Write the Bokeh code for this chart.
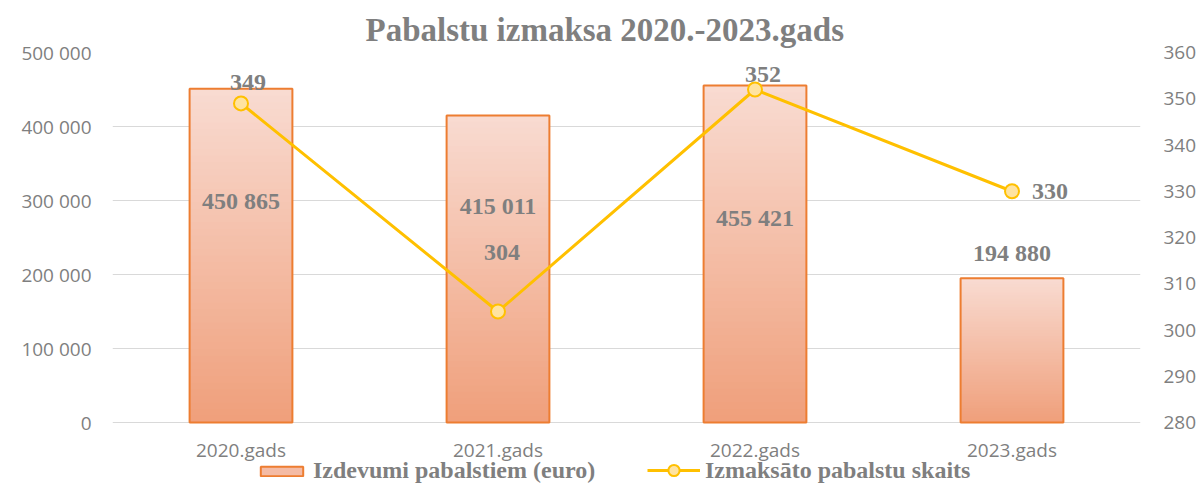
from bokeh.plotting import figure
from bokeh.models import (ColumnDataSource, Range1d, LinearAxis, FixedTicker,
                          CustomJSTickFormatter, Legend, LegendItem)
from bokeh.embed import file_html
from bokeh.resources import INLINE

# ---- data ----
categories = ["2020.gads", "2021.gads", "2022.gads", "2023.gads"]
expenses = [450865, 415011, 455421, 194880]
counts = [349, 304, 352, 330]
left_ticks = [0, 100000, 200000, 300000, 400000, 500000]
right_ticks = [280, 290, 300, 310, 320, 330, 340, 350, 360]
title_text = "Pabalstu izmaksa 2020.-2023.gads"
series_names = ["Izdevumi pabalstiem (euro)", "Izmaksāto pabalstu skaits"]

# ---- styles / layout ----
GREY = "#7F7F7F"
SERIF = "Liberation Serif"
SANS = "Open Sans"
BAR_W = 0.4
top_rgb = (249, 219, 209)
bot_rgb = (240, 160, 124)
bar_label_dx = [0, 0, 0, 0]
bar_label_dy = [112, 91, 133, -25]
cnt_label_dx = [7, 4, 8, 38]
cnt_label_dy = [-21, -59, -15, 0]
W, H = 1201, 485
TOP_PX = 52          # pixel row of the 500 000 gridline
PLOT_PX = 370        # pixels between 0 and 500 000
L_MIN, L_MAX = 0, 500000
R_MIN, R_MAX = 280, 360
extra_px = H - TOP_PX - PLOT_PX  # room below the zero line for labels + legend
l_lo = L_MIN - (L_MAX - L_MIN) * extra_px / PLOT_PX
r_lo = R_MIN - (R_MAX - R_MIN) * extra_px / PLOT_PX

p = figure(width=W, height=H, x_range=categories, y_range=Range1d(l_lo, L_MAX),
           output_backend="svg", toolbar_location=None,
           min_border_left=112, min_border_right=61, min_border_top=TOP_PX, min_border_bottom=0)
p.extra_y_ranges = {"cnt": Range1d(r_lo, R_MAX)}
p.outline_line_color = None
p.background_fill_color = "white"
p.xaxis.visible = False

p.title.text = title_text
p.title.align = "left"
p.title.offset = 253
p.title.text_font = SERIF
p.title.text_font_size = "33px"
p.title.text_font_style = "bold"
p.title.text_color = GREY

# gradient bars built from stacked, slightly overlapping slices
N = 50
xs, bots, tops, cols = [], [], [], []
for c, v in zip(categories, expenses):
    for i in range(N):
        f = i / (N - 1)  # 0 bottom -> 1 top
        r = int(bot_rgb[0] + (top_rgb[0] - bot_rgb[0]) * f)
        g = int(bot_rgb[1] + (top_rgb[1] - bot_rgb[1]) * f)
        b = int(bot_rgb[2] + (top_rgb[2] - bot_rgb[2]) * f)
        xs.append(c)
        bots.append(v * i / N)
        tops.append(min(v, v * (i + 1.8) / N))
        cols.append("#%02x%02x%02x" % (r, g, b))
p.vbar(x=xs, bottom=bots, top=tops, width=BAR_W, fill_color=cols, line_alpha=0)

bar_src = ColumnDataSource(dict(x=categories, top=expenses,
                                label=[f"{v:,}".replace(",", " ") for v in expenses],
                                dx=bar_label_dx, dy=bar_label_dy))
outline = p.vbar(x="x", top="top", width=BAR_W, source=bar_src, fill_alpha=0,
                 line_color="#ED7D31", line_width=2)
legend_bar = p.vbar(x="x", top="top", width=BAR_W, source=bar_src, fill_color="#F4BBA5",
                    line_color="#ED7D31", line_width=2, visible=False)

cnt_src = ColumnDataSource(dict(x=categories, y=counts, label=[str(c) for c in counts],
                                dx=cnt_label_dx, dy=cnt_label_dy))
ln = p.line(x="x", y="y", source=cnt_src, y_range_name="cnt", line_color="#FFC000", line_width=3)
mk = p.scatter(x="x", y="y", source=cnt_src, y_range_name="cnt", size=14,
               fill_color="#FFE3A0", line_color="#FFC000", line_width=2)

p.text(x="x", y="top", text="label", source=bar_src, x_offset="dx", y_offset="dy",
       text_align="center", text_baseline="middle", text_font={"value": SERIF},
       text_font_size="24px", text_font_style="bold", text_color=GREY)
p.text(x="x", y="y", text="label", source=cnt_src, y_range_name="cnt", x_offset="dx", y_offset="dy",
       text_align="center", text_baseline="middle", text_font={"value": SERIF},
       text_font_size="24px", text_font_style="bold", text_color=GREY)

# category labels under the zero line
cat_src = ColumnDataSource(dict(x=categories, y=[L_MIN] * len(categories)))
p.text(x="x", y="y", text="x", source=cat_src, y_offset=27,
       text_align="center", text_baseline="middle", text_font={"value": SANS},
       text_font_size="19px", text_color=GREY)

# axes
def style_axis(ax, standoff):
    ax.axis_line_color = None
    ax.major_tick_line_color = None
    ax.minor_tick_line_color = None
    ax.major_tick_out = 0
    ax.major_tick_in = 0
    ax.minor_tick_out = 0
    ax.minor_tick_in = 0
    ax.major_label_text_font = SANS
    ax.major_label_text_font_size = "19px"
    ax.major_label_text_color = GREY
    ax.major_label_standoff = standoff

style_axis(p.yaxis[0], 21)
p.yaxis[0].ticker = FixedTicker(ticks=left_ticks)
p.yaxis[0].formatter = CustomJSTickFormatter(
    code='return tick.toString().replace(/\\B(?=(\\d{3})+(?!\\d))/g, " ");')

rax = LinearAxis(y_range_name="cnt", ticker=FixedTicker(ticks=right_ticks))
style_axis(rax, 23)
p.add_layout(rax, "right")

p.xgrid.grid_line_color = None
p.ygrid.grid_line_color = "#D9D9D9"
p.ygrid.grid_line_width = 1
p.ygrid.ticker = FixedTicker(ticks=left_ticks)

leg_style = dict(orientation="horizontal", label_text_font=SERIF, label_text_font_size="24px",
                 label_text_font_style="bold", label_text_color=GREY, glyph_width=53,
                 label_height=20, label_standoff=5, padding=0, margin=0,
                 border_line_alpha=0, background_fill_alpha=0)
legend1 = Legend(items=[LegendItem(label=series_names[0], renderers=[legend_bar])],
                 location=(143, 1), glyph_height=12, **leg_style)
legend2 = Legend(items=[LegendItem(label=series_names[1], renderers=[ln, mk])],
                 location=(535, 1), glyph_height=28, **leg_style)
p.add_layout(legend1, "center")
p.add_layout(legend2, "center")

open("out.html", "w").write(file_html(p, INLINE))
